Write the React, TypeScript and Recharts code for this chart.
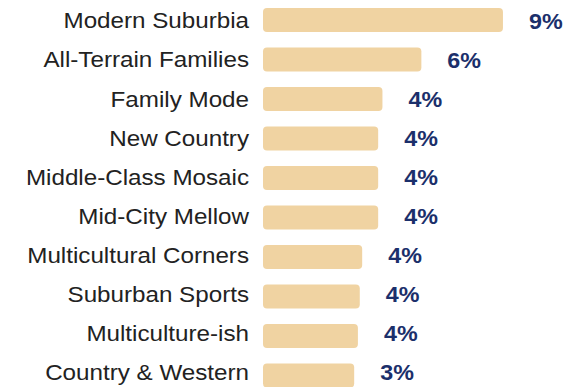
import React from 'react';
import { BarChart, Bar, XAxis, YAxis, LabelList } from 'recharts';

const segments = [
  'Modern Suburbia',
  'All-Terrain Families',
  'Family Mode',
  'New Country',
  'Middle-Class Mosaic',
  'Mid-City Mellow',
  'Multicultural Corners',
  'Suburban Sports',
  'Multiculture-ish',
  'Country & Western',
];

const shares = [9.0, 5.94, 4.48, 4.32, 4.32, 4.32, 3.72, 3.63, 3.56, 3.42];

const data = segments.map((name, i) => ({ name, share: shares[i] }));

const FONT = 'Liberation Sans, Arial, sans-serif';

// text rows in the source drift up a little relative to the bars
const drift = (i: number) => 0.8 - i * 0.42;

// the source text is a bit wider than plain Arial, so stretch it sideways
const SegmentTick = ({ x, y, payload, index }: any) => (
  <text
    transform={`translate(${x},${y + drift(index ?? payload.index ?? 0)}) scale(1.1,1)`}
    textAnchor="end"
    dy="0.355em"
    fill="#222"
    fontSize={22}
    fontFamily={FONT}
  >
    {payload.value}
  </text>
);

const PctLabel = ({ x, y, width, height, value, index }: any) => (
  <text
    transform={`translate(${x + width + 26},${y + height / 2 + drift(index ?? 0)}) scale(1.06,1)`}
    dy="0.355em"
    fill="#1B2F6B"
    fontSize={22}
    fontWeight={700}
    fontFamily={FONT}
  >
    {`${Math.round(Number(value))}%`}
  </text>
);

const App: React.FC = () => {
  return (
    <div style={{ position: 'absolute', left: 0, top: 0, width: 588, height: 387, overflow: 'hidden', background: '#fff' }}>
      <BarChart
        width={588}
        height={395}
        data={data}
        layout="vertical"
        margin={{ top: 0, right: 0, bottom: 0, left: 0 }}
      >
        <XAxis type="number" domain={[0, 12.19]} hide />
        <YAxis
          type="category"
          dataKey="name"
          width={263}
          axisLine={false}
          tickLine={false}
          tickSize={0}
          tickMargin={14}
          interval={0}
          tick={<SegmentTick />}
        />
        <Bar dataKey="share" fill="#F0D3A2" barSize={24} radius={4} isAnimationActive={false}>
          <LabelList dataKey="share" content={<PctLabel />} />
        </Bar>
      </BarChart>
    </div>
  );
};

export default App;
